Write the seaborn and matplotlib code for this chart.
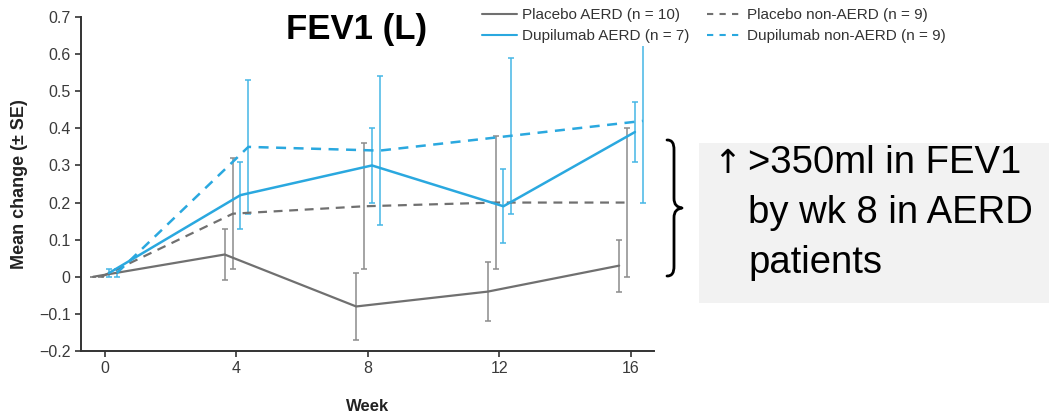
import numpy as np
import pandas as pd
import matplotlib
matplotlib.use("Agg")
import matplotlib.pyplot as plt
import seaborn as sns
from matplotlib.lines import Line2D
from matplotlib.patches import Rectangle, PathPatch
from matplotlib.path import Path

# ---- data: mean change in FEV1 (L) +/- SE by week ----
weeks = [0, 4, 8, 12, 16]
group_labels = [
    "Placebo AERD (n = 10)",
    "Placebo non-AERD (n = 9)",
    "Dupilumab AERD (n = 7)",
    "Dupilumab non-AERD (n = 9)",
]
placebo_aerd = [0.00, 0.06, -0.08, -0.04, 0.03]
placebo_aerd_se = [0.00, 0.07, 0.09, 0.08, 0.07]
placebo_non_aerd = [0.00, 0.17, 0.19, 0.20, 0.20]
placebo_non_aerd_se = [0.00, 0.15, 0.17, 0.18, 0.20]
dupilumab_aerd = [0.01, 0.22, 0.30, 0.19, 0.39]
dupilumab_aerd_se = [0.01, 0.09, 0.10, 0.10, 0.08]
dupilumab_non_aerd = [0.01, 0.35, 0.34, 0.38, 0.42]
dupilumab_non_aerd_se = [0.01, 0.18, 0.20, 0.21, 0.22]

y_ticks = [-0.2, -0.1, 0.0, 0.1, 0.2, 0.3, 0.4, 0.5, 0.6, 0.7]
y_tick_labels = ["\u22120.2", "\u22120.1", "0", "0.1", "0.2", "0.3", "0.4", "0.5", "0.6", "0.7"]
x_ticks = [0, 4, 8, 12, 16]
x_tick_labels = ["0", "4", "8", "12", "16"]

means = [placebo_aerd, placebo_non_aerd, dupilumab_aerd, dupilumab_non_aerd]
ses = [placebo_aerd_se, placebo_non_aerd_se, dupilumab_aerd_se, dupilumab_non_aerd_se]

# ---- styling ----
GRAY = "#707070"
GRAY_ERR = "#8c8c8c"
BLUE = "#2aa8df"
BLUE_ERR = "#45b6e6"
line_colors = [GRAY, GRAY, BLUE, BLUE]
err_colors = [GRAY_ERR, GRAY_ERR, BLUE_ERR, BLUE_ERR]
dodge = [-0.36, -0.11, 0.12, 0.36]
dash_styles = ["", (4.0, 3.0), "", (4.0, 3.0)]

rows = []
for label, m, s, off in zip(group_labels, means, ses, dodge):
    for w, mv, sv in zip(weeks, m, s):
        rows.append({"group": label, "week": w, "x": w + off, "mean": mv, "se": sv})
df = pd.DataFrame(rows)

sns.set_style("ticks")
plt.rcParams["font.family"] = ["Liberation Sans", "DejaVu Sans"]

W, H = 1049, 415
fig = plt.figure(figsize=(W / 100, H / 100), dpi=100)
fig.patch.set_facecolor("white")

def fx(px):
    return px / W

def fy(py):
    return 1 - py / H

ax = fig.add_axes([fx(81), fy(351), (654 - 81) / W, (351 - 17) / H])

sns.lineplot(
    data=df, x="x", y="mean", hue="group", style="group",
    hue_order=group_labels, style_order=group_labels,
    palette=dict(zip(group_labels, line_colors)),
    dashes=dict(zip(group_labels, dash_styles)),
    estimator=None, sort=False, linewidth=1.6, legend=False, ax=ax,
)
for line, label in zip(ax.lines, group_labels):
    if label.startswith("Dupilumab"):
        line.set_linewidth(1.8)

for label, col in zip(group_labels, err_colors):
    sub = df[df["group"] == label]
    ax.errorbar(sub["x"], sub["mean"], yerr=sub["se"], fmt="none",
                ecolor=col, elinewidth=1.1, capsize=2.5, capthick=1.1, zorder=1)

ax.set_xlim(-0.73, 16.7)
ax.set_ylim(-0.2, 0.7)
ax.set_xticks(x_ticks)
ax.set_xticklabels(x_tick_labels)
ax.set_yticks(y_ticks)
ax.set_yticklabels(y_tick_labels)
ax.tick_params(axis="both", direction="out", length=4.5, width=1.2,
               colors="#333333", labelsize=11.5, pad=3)
ax.tick_params(axis="both", labelcolor="#3a3a3a")
for side in ["top", "right"]:
    ax.spines[side].set_visible(False)
for side in ["left", "bottom"]:
    ax.spines[side].set_color("#333333")
    ax.spines[side].set_linewidth(1.4)
ax.set_xlabel("Week", fontsize=12, fontweight="bold", color="#222222")
ax.set_ylabel("Mean change (\u00b1 SE)", fontsize=13, fontweight="bold", color="#222222")
ax.xaxis.set_label_coords(0.5, -0.143)
ax.yaxis.set_label_coords(-0.092, 0.5)
ax.set_facecolor("white")

# legend in two columns above the plot
handles = [
    Line2D([], [], color=GRAY, lw=1.5),
    Line2D([], [], color=BLUE, lw=1.5),
    Line2D([], [], color=GRAY, lw=1.5, dashes=(3.0, 3.0)),
    Line2D([], [], color=BLUE, lw=1.5, dashes=(3.0, 3.0)),
]
labels = [group_labels[0], group_labels[2], group_labels[1], group_labels[3]]
leg = fig.legend(handles, labels, loc="upper left", bbox_to_anchor=(fx(479), fy(5)),
                 ncol=2, fontsize=11, frameon=True, facecolor="white", edgecolor="none",
                 framealpha=1.0, handlelength=2.3, handletextpad=0.3, columnspacing=1.2,
                 labelspacing=0.45, borderpad=0.2, borderaxespad=0)
for t in leg.get_texts():
    t.set_color("#333333")

# title
fig.text(fx(357), fy(29), "FEV1 (L)", fontsize=25, fontweight="bold",
         ha="center", va="center", color="black")

# brace
brace_pts = [(667, 140), (672, 140), (674, 143), (674, 150), (674, 198),
             (674, 205), (677, 207), (682, 208),
             (677, 209), (674, 211), (674, 218), (674, 266),
             (674, 273), (672, 276), (667, 276)]
codes = [Path.MOVETO, Path.CURVE4, Path.CURVE4, Path.CURVE4, Path.LINETO,
         Path.CURVE4, Path.CURVE4, Path.CURVE4,
         Path.CURVE4, Path.CURVE4, Path.CURVE4, Path.LINETO,
         Path.CURVE4, Path.CURVE4, Path.CURVE4]
verts = [(fx(a), fy(b)) for a, b in brace_pts]
brace = PathPatch(Path(verts, codes), transform=fig.transFigure, facecolor="none",
                  edgecolor="black", lw=2.0, capstyle="round", joinstyle="round")
fig.patches.append(brace)

# callout box
box = Rectangle((fx(699), fy(303)), (W - 699) / W, (303 - 143) / H,
                transform=fig.transFigure, facecolor="#f2f2f2", edgecolor="none")
fig.patches.append(box)

fig.text(fx(713), fy(173), "\u2191", fontsize=24, ha="left", va="baseline", color="black",
         family=["DejaVu Sans"])
for txt, base in zip([">350ml in FEV1", "by wk 8 in AERD", "patients"], [173, 223, 273]):
    fig.text(fx(748), fy(base), txt, fontsize=27.5, ha="left", va="baseline", color="black")

fig.savefig("out.png", dpi=100, facecolor="white")
